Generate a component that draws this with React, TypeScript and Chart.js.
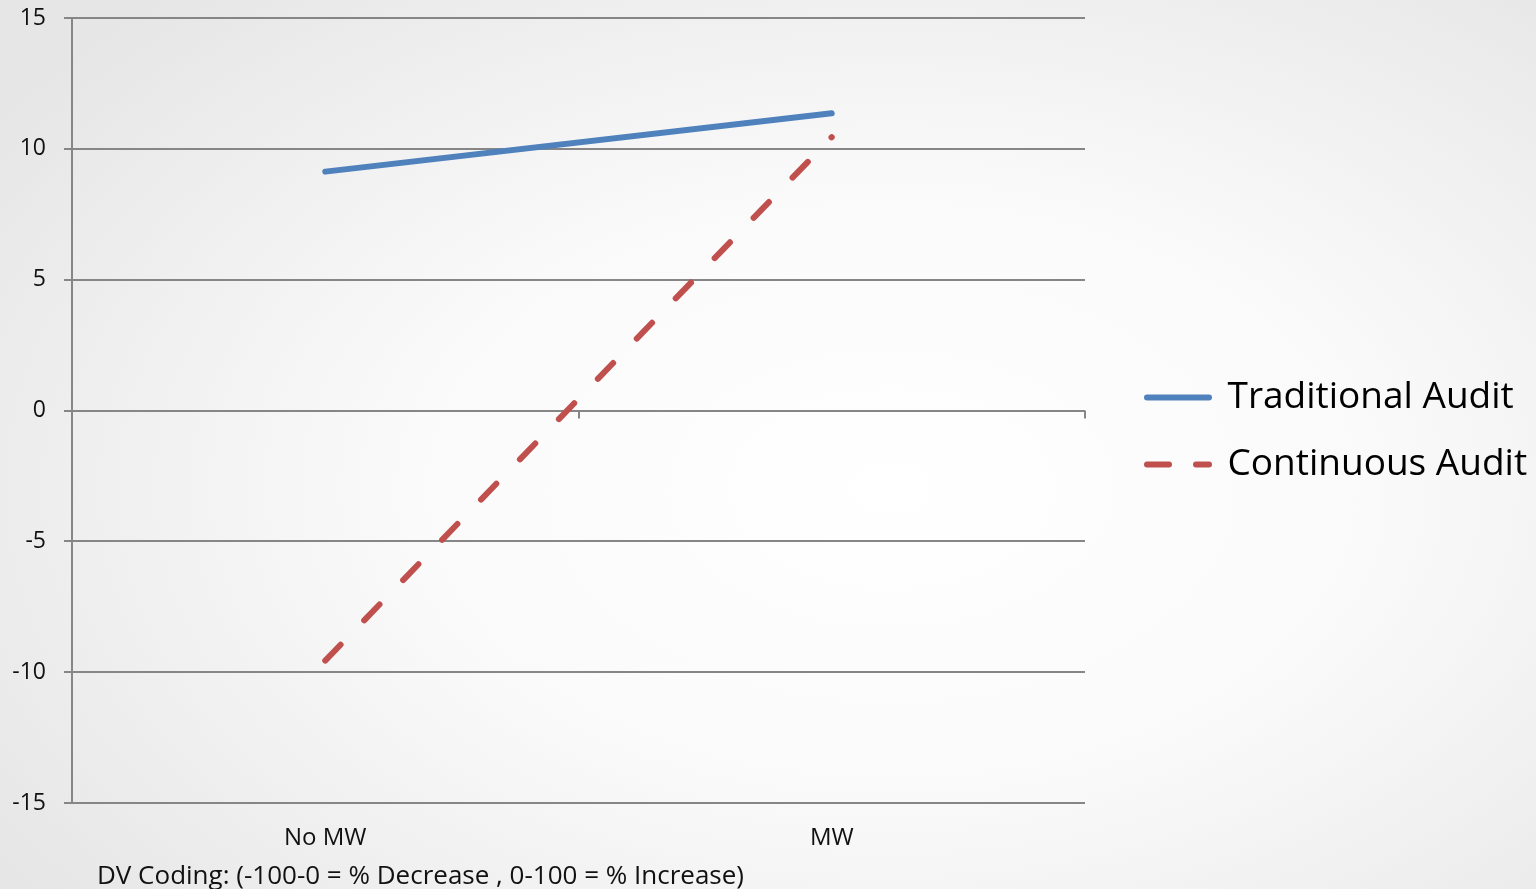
import React, { useEffect, useRef } from 'react';
import { Chart, registerables } from 'chart.js';

Chart.register(...registerables);

const categories = ['No MW', 'MW'];
const traditionalAudit = [9.13, 11.36];
const continuousAudit = [-9.55, 10.45];
const seriesNames = ['Traditional Audit', 'Continuous Audit'];
const yMin = -15;
const yMax = 15;
const yStep = 5;
const footnote = 'DV Coding: (-100-0 = % Decrease , 0-100 = % Increase)';

const FONT = "'Open Sans', sans-serif";
const GRID = '#868686';
const LEGEND_DASH = [22, 27];

const legendShift = { x: 32, y: -15 };

const zeroTickPlugin = {
  id: 'zeroTicks',
  beforeDatasetsDraw(chart: any) {
    const x = chart.scales.x;
    const y = chart.scales.y;
    const y0 = y.getPixelForValue(0);
    const n = categories.length;
    const w = (x.right - x.left) / n;
    const ctx = chart.ctx;
    ctx.save();
    ctx.strokeStyle = GRID;
    ctx.lineWidth = 2;
    for (let i = 0; i <= n; i++) {
      const px = Math.round(x.left + i * w);
      ctx.beginPath();
      ctx.moveTo(px, y0);
      ctx.lineTo(px, y0 + 8);
      ctx.stroke();
    }
    ctx.restore();
  },
};

const legendMovePlugin = {
  id: 'legendMove',
  afterLayout(chart: any) {
    const lg = chart.legend;
    if (!lg) return;
    lg.left += legendShift.x;
    lg.right += legendShift.x + 120;
    lg.width += 120;
    lg.top += legendShift.y;
    lg.bottom += legendShift.y;
  },
};

export default function App() {
  const ref = useRef<HTMLCanvasElement | null>(null);

  useEffect(() => {
    if (!ref.current) return;
    const chart = new Chart(ref.current, {
      type: 'line',
      data: {
        labels: categories,
        datasets: [
          {
            label: seriesNames[0],
            data: traditionalAudit,
            borderColor: '#4F81BD',
            backgroundColor: '#4F81BD',
            borderWidth: 6,
            borderCapStyle: 'round',
            pointRadius: 0,
            pointStyle: 'line',
            tension: 0,
          },
          {
            label: seriesNames[1],
            data: continuousAudit,
            borderColor: '#C0504D',
            backgroundColor: '#C0504D',
            borderWidth: 6,
            borderCapStyle: 'round',
            borderDash: [22, 34],
            pointRadius: 0,
            pointStyle: 'line',
            tension: 0,
          },
        ],
      },
      plugins: [zeroTickPlugin, legendMovePlugin],
      options: {
        animation: false,
        responsive: true,
        maintainAspectRatio: false,
        layout: { padding: { top: 18, bottom: 15, left: 0, right: 51 } },
        plugins: {
          tooltip: { enabled: false },
          legend: {
            position: 'right',
            align: 'center',
            maxWidth: 400,
            labels: {
              usePointStyle: true,
              pointStyle: 'line',
              pointStyleWidth: 62,
              padding: 30,
              color: '#000',
              font: { family: FONT, size: 37 },
              generateLabels: (chart: any) => {
                const items = Chart.defaults.plugins.legend.labels.generateLabels(chart);
                return items.map((it: any) => {
                  const ds = chart.data.datasets[it.datasetIndex];
                  return {
                    ...it,
                    lineWidth: 6,
                    lineCap: 'round',
                    lineDash: ds.borderDash ? LEGEND_DASH : [],
                    strokeStyle: ds.borderColor,
                    fillStyle: ds.borderColor,
                  };
                });
              },
            },
          },
        },
        scales: {
          x: {
            type: 'category',
            offset: true,
            grid: { display: false, drawTicks: false },
            border: { display: false },
            ticks: {
              color: '#111',
              font: { family: FONT, size: 24 },
              padding: 21,
            },
          },
          y: {
            min: yMin,
            max: yMax,
            ticks: {
              stepSize: yStep,
              color: '#111',
              font: { family: FONT, size: 23 },
              padding: 18,
            },
            grid: { color: GRID, lineWidth: 2, tickLength: 8, drawTicks: true },
            border: { display: true, color: GRID, width: 2 },
            afterFit: (s: any) => {
              s.width = 72;
              s.paddingTop = 0;
            },
          },
        },
      },
    });
    return () => chart.destroy();
  }, []);

  return (
    <div
      style={{
        position: 'fixed',
        left: 0,
        top: 0,
        width: 1536,
        height: 889,
        overflow: 'hidden',
        background:
          'radial-gradient(ellipse 70% 75% at 58% 55%, #ffffff 0%, #fafafa 45%, #e6e6e6 100%)',
      }}
    >
      <canvas ref={ref} style={{ position: 'absolute', left: 0, top: 0, width: 1536, height: 889 }} />
      <div
        style={{
          position: 'absolute',
          left: 97,
          top: 859,
          fontFamily: FONT,
          fontSize: 26,
          lineHeight: '30px',
          color: '#111',
          whiteSpace: 'nowrap',
        }}
      >
        {footnote}
      </div>
    </div>
  );
}
